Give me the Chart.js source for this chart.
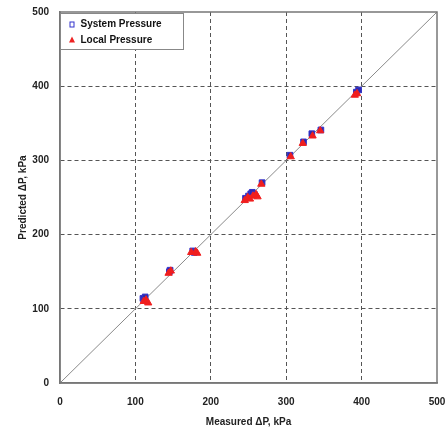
<!DOCTYPE html>
<html>
<head>
<meta charset="utf-8">
<script src="https://cdn.jsdelivr.net/npm/chart.js@4.4.1/dist/chart.umd.min.js"></script>
<style>
  html, body { margin: 0; padding: 0; background: #fff; }
  #wrap { width: 446px; height: 432px; }
</style>
</head>
<body>
<div id="wrap"><canvas id="dpChart" width="446" height="432"></canvas></div>
<script>
// measured vs predicted pressure drop (kPa)
var sysMeasured  = [110, 112, 113, 145, 146, 176, 178, 246, 250, 253, 255, 258, 268, 305, 323, 334, 346, 393, 396];
var sysPredicted = [114, 112, 116, 150, 152, 178, 176, 249, 252, 255, 257, 254, 270, 307, 325, 336, 341, 392, 395];

var locMeasured  = [111, 114, 117, 144, 147, 174, 180, 182, 245, 249, 252, 256, 260, 262, 267, 306, 322, 335, 345, 391, 394];
var locPredicted = [110, 112, 108, 148, 151, 176, 177, 175, 246, 250, 248, 252, 254, 251, 268, 305, 323, 333, 340, 388, 390];

var lineX = [0, 500];
var seriesNames = ['System Pressure', 'Local Pressure'];
var axisMin = 0, axisMax = 500, axisStep = 100;

function toPoints(xs, ys) {
    var out = [];
    for (var i = 0; i < xs.length; i++) out.push({ x: xs[i], y: ys[i] });
    return out;
}

var FONT = 'Liberation Sans, Arial, sans-serif';

// frame + legend box drawn inside the plot
var framePlugin = {
    id: 'frameLegend',
    afterDraw: function(chart) {
        var ctx = chart.ctx, a = chart.chartArea;
        ctx.save();
        ctx.strokeStyle = '#777';
        ctx.lineWidth = 1.5;
        ctx.strokeRect(a.left, a.top, a.right - a.left, a.bottom - a.top);

        // legend
        var bx = a.left + 0.5, by = a.top + 1.5, bw = 123, bh = 36;
        ctx.fillStyle = '#fff';
        ctx.fillRect(bx, by, bw, bh);
        ctx.strokeStyle = '#888';
        ctx.lineWidth = 1;
        ctx.strokeRect(bx, by, bw, bh);

        ctx.font = 'bold 10px ' + FONT;
        ctx.textBaseline = 'middle';
        ctx.fillStyle = '#111';
        // square marker
        ctx.strokeStyle = '#3333cc';
        ctx.lineWidth = 1;
        ctx.strokeRect(bx + 9.5, by + 8.5, 4, 5);
        ctx.fillText(seriesNames[0], bx + 20, by + 11);
        // triangle marker
        ctx.fillStyle = '#ee2222';
        ctx.beginPath();
        ctx.moveTo(bx + 11.5, by + 23);
        ctx.lineTo(bx + 14.5, by + 29);
        ctx.lineTo(bx + 8.5, by + 29);
        ctx.closePath();
        ctx.fill();
        ctx.fillStyle = '#111';
        ctx.fillText(seriesNames[1], bx + 20, by + 27);
        ctx.restore();
    }
};

function gridColor(c) {
    var v = c.tick ? c.tick.value : 0;
    return (v === axisMin || v === axisMax) ? 'rgba(0,0,0,0)' : '#555';
}

new Chart(document.getElementById('dpChart'), {
    type: 'scatter',
    data: {
        datasets: [
            {
                label: seriesNames[0],
                data: toPoints(sysMeasured, sysPredicted),
                pointStyle: 'rect',
                pointRadius: 4,
                backgroundColor: '#2b2bb0',
                borderColor: '#3333cc',
                borderWidth: 1,
                order: 2
            },
            {
                label: seriesNames[1],
                data: toPoints(locMeasured, locPredicted),
                pointStyle: 'triangle',
                pointRadius: 4.2,
                backgroundColor: '#f01e1e',
                borderColor: '#f01e1e',
                borderWidth: 1,
                order: 1
            },
            {
                type: 'line',
                label: 'y = x',
                data: toPoints(lineX, lineX),
                borderColor: '#8a8a8a',
                borderWidth: 1,
                pointRadius: 0,
                order: 3
            }
        ]
    },
    options: {
        responsive: false,
        animation: false,
        layout: { padding: { top: 12, right: 9, left: 0, bottom: 0 } },
        plugins: { legend: { display: false }, tooltip: { enabled: false } },
        scales: {
            x: {
                type: 'linear', min: axisMin, max: axisMax,
                ticks: { stepSize: axisStep, color: '#222', padding: 13, font: { family: FONT, size: 10, weight: 'bold' } },
                grid: { color: gridColor, lineWidth: 1, drawTicks: false },
                border: { display: true, color: '#777', width: 1.5, dash: [4, 3] },
                title: { display: true, text: 'Measured ΔP, kPa', color: '#222', padding: { top: 2 }, font: { family: FONT, size: 10, weight: 'bold' } },
                afterFit: function(s) { s.height = 49; s.paddingLeft = 0; s.paddingRight = 0; }
            },
            y: {
                type: 'linear', min: axisMin, max: axisMax,
                ticks: { stepSize: axisStep, color: '#222', padding: 11, font: { family: FONT, size: 10, weight: 'bold' } },
                grid: { color: gridColor, lineWidth: 1, drawTicks: false },
                border: { display: true, color: '#777', width: 1.5, dash: [4, 3] },
                title: { display: true, text: 'Predicted ΔP, kPa', color: '#222', padding: { top: 17, bottom: 0 }, font: { family: FONT, size: 10, weight: 'bold' } },
                afterFit: function(s) { s.width = 60; s.paddingTop = 0; s.paddingBottom = 0; }
            }
        }
    },
    plugins: [framePlugin]
});
</script>
</body>
</html>
